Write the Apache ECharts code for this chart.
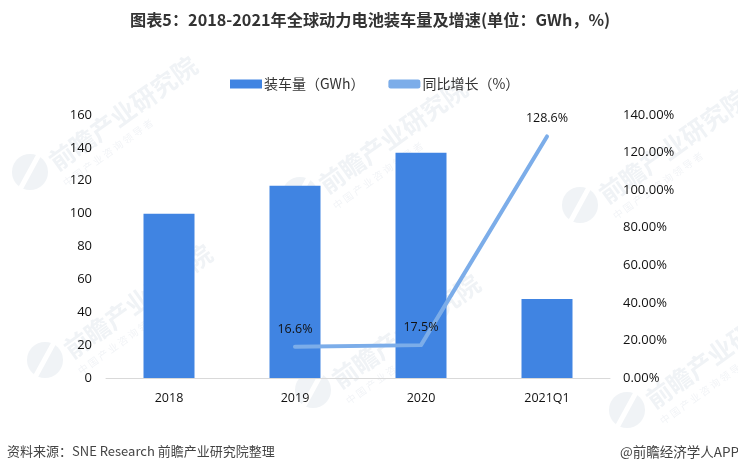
<!DOCTYPE html>
<html lang="zh">
  <head>
    <meta charset="UTF-8" />
    <title>全球动力电池装车量及增速</title>
    <style>
      html, body { margin: 0; padding: 0; background: #fff; }
      #chart-container { width: 738px; height: 472px; }
    </style>
    <script src="https://cdn.jsdelivr.net/npm/echarts@6/dist/echarts.min.js"></script>
  </head>
  <body>
    <div id="chart-container"></div>
    <script>
      const categories = ["2018", "2019", "2020", "2021Q1"];
      const installed = [100, 117, 137, 48];
      const growth = [null, 16.6, 17.5, 128.6];
      const leftTicks = [0, 160, 20];
      const rightTicks = [0, 140, 20];
      const logoSpots = [[30, 172], [300, 195], [580, 205], [45, 360], [313, 390], [627, 410]];

      const cjk = '"Noto Sans CJK SC", sans-serif';
      const latin = '"Open Sans", "Noto Sans CJK SC", sans-serif';

      // faint company watermark, sits behind the chart
      function watermark(spot) {
        return {
          type: "group",
          x: spot[0],
          y: spot[1],
          z: -10,
          silent: true,
          children: [
            { type: "circle", shape: { cx: 0, cy: 0, r: 18 }, style: { fill: "#f0f3f6" } },
            { type: "rect", shape: { x: -3, y: -19, width: 5, height: 38 }, rotation: -0.5, style: { fill: "#fff" } },
            {
              type: "text",
              x: 22,
              y: -8,
              rotation: 0.62,
              style: { text: "前瞻产业研究院", font: "bold 25px " + cjk, fill: "#f0f3f6", textVerticalAlign: "middle" },
            },
            {
              type: "text",
              x: 34,
              y: 12,
              rotation: 0.62,
              style: { text: "中 国 产 业 咨 询 领 导 者", font: "10px " + cjk, fill: "#f2f4f7", textVerticalAlign: "middle" },
            },
          ],
        };
      }

      const chart = echarts.init(document.getElementById("chart-container"), null, { renderer: "canvas" });
      chart.setOption({
        animation: false,
        backgroundColor: "#fff",
        title: {
          text: "图表5：2018-2021年全球动力电池装车量及增速(单位：GWh，%)",
          left: 125,
          top: 7,
          textStyle: { fontFamily: cjk, fontSize: 16.2, fontWeight: "bold", color: "#333" },
        },
        legend: {
          top: 72,
          left: 225,
          itemGap: 24,
          itemWidth: 32,
          itemHeight: 9,
          textStyle: { fontFamily: cjk, fontSize: 14, color: "#333", padding: [0, 0, 0, -3] },
          data: [
            { name: "装车量（GWh）", icon: "rect" },
            { name: "同比增长（%）", icon: "roundRect" },
          ],
        },
        grid: { left: 106, right: 128, top: 115, bottom: 94 },
        xAxis: {
          type: "category",
          data: categories,
          axisTick: { show: false },
          axisLine: { lineStyle: { color: "#d9d9d9" } },
          axisLabel: { fontFamily: latin, fontSize: 12.5, color: "#111", margin: 14 },
        },
        yAxis: [
          {
            type: "value",
            min: leftTicks[0],
            max: leftTicks[1],
            interval: leftTicks[2],
            splitLine: { show: false },
            axisLine: { show: false },
            axisTick: { show: false },
            axisLabel: { fontFamily: latin, fontSize: 13, color: "#111", margin: 14 },
          },
          {
            type: "value",
            min: rightTicks[0],
            max: rightTicks[1],
            interval: rightTicks[2],
            splitLine: { show: false },
            axisLine: { show: false },
            axisTick: { show: false },
            axisLabel: {
              fontFamily: latin,
              fontSize: 13,
              color: "#111",
              margin: 13,
              formatter: (v) => v.toFixed(2) + "%",
            },
          },
        ],
        series: [
          {
            name: "装车量（GWh）",
            type: "bar",
            data: installed,
            barWidth: 51,
            itemStyle: { color: "#4084e2" },
          },
          {
            name: "同比增长（%）",
            type: "line",
            yAxisIndex: 1,
            data: growth,
            symbol: "circle",
            symbolSize: 1,
            lineStyle: { color: "#7cade9", width: 4, cap: "round", join: "round" },
            itemStyle: { color: "#7cade9" },
            label: {
              show: true,
              position: "top",
              distance: 11,
              fontFamily: latin,
              fontSize: 12.5,
              color: "#111",
              formatter: (p) => p.value + "%",
            },
          },
        ],
        graphic: logoSpots.map(watermark).concat([
          {
            type: "text",
            x: 7,
            y: 445,
            style: { text: "资料来源：SNE Research 前瞻产业研究院整理", font: "13px " + cjk, fill: "#444" },
          },
          {
            type: "text",
            x: 620,
            y: 445,
            style: { text: "@前瞻经济学人APP", font: "13.5px " + cjk, fill: "#444" },
          },
        ]),
      });
    </script>
  </body>
</html>
